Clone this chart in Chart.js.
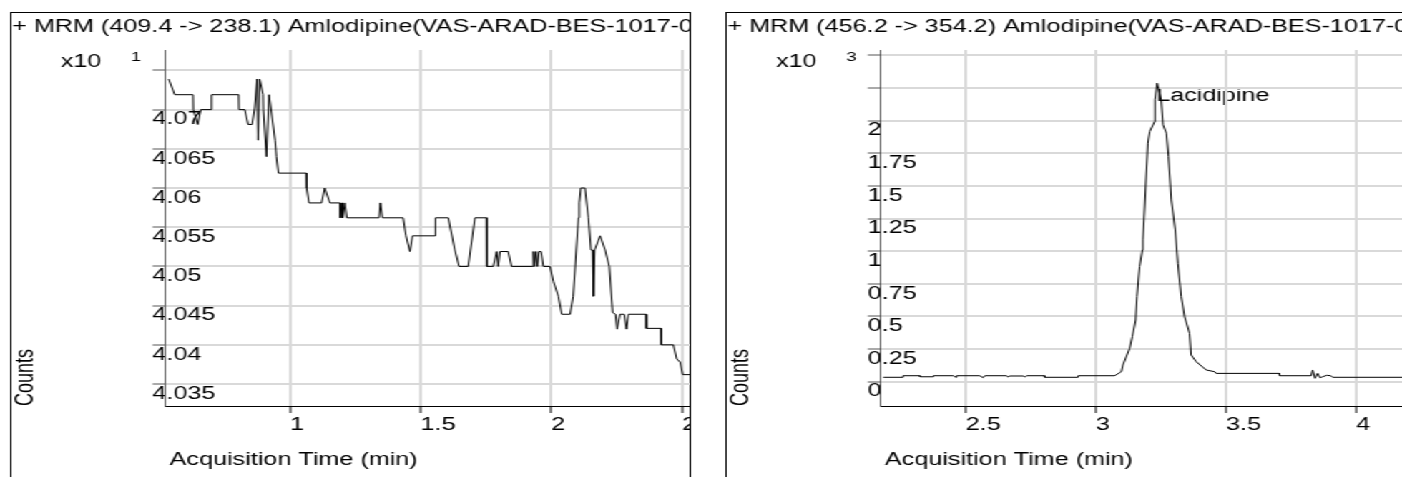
<!DOCTYPE html>
<html>
<head>
<meta charset="utf-8">
<script src="https://cdn.jsdelivr.net/npm/chart.js@4.4.0/dist/chart.umd.min.js"></script>
<style>
  html, body { margin: 0; padding: 0; background: #fff; overflow: hidden; }
  /* the whole report is stretched sideways, text and lines too */
  #stage { position: absolute; left: 0; top: 0; width: 980px; height: 477px; transform: scaleX(1.43061); transform-origin: 0 0; }
  .panel { position: absolute; top: 12px; width: 476px; height: 480px; border: 1px solid #000; box-sizing: border-box; overflow: hidden; background: #fff; }
  .panel canvas { position: absolute; left: 0; top: 0; }
</style>
</head>
<body>
<div id="stage">
  <div class="panel" style="left:7.2px"><canvas id="chart-left" width="560" height="464"></canvas></div>
  <div class="panel" style="left:507px"><canvas id="chart-right" width="560" height="464"></canvas></div>
</div>
<script>
// MRM 409.4 -> 238.1 (counts x10^1)
var leftTime = [0.536, 0.559, 0.629, 0.630, 0.647, 0.659, 0.699, 0.700, 0.804, 0.805,
  0.827, 0.840, 0.855, 0.865, 0.874, 0.878, 0.884, 0.897, 0.898, 0.910,
  0.920, 0.943, 0.948, 0.956, 1.063, 1.064, 1.073, 1.121, 1.133, 1.153,
  1.191, 1.193, 1.199, 1.202, 1.210, 1.218, 1.341, 1.346, 1.354, 1.433,
  1.444, 1.459, 1.469, 1.555, 1.557, 1.606, 1.631, 1.647, 1.682, 1.708,
  1.753, 1.754, 1.778, 1.791, 1.797, 1.804, 1.835, 1.848, 1.929, 1.932,
  1.936, 1.942, 1.947, 1.953, 1.961, 1.970, 1.995, 2.008, 2.027, 2.040,
  2.072, 2.084, 2.104, 2.107, 2.113, 2.129, 2.142, 2.152, 2.158, 2.161,
  2.166, 2.187, 2.206, 2.222, 2.235, 2.246, 2.252, 2.263, 2.279, 2.288,
  2.295, 2.363, 2.364, 2.420, 2.421, 2.467, 2.480, 2.493, 2.503, 2.620];
var leftCounts = [4.0739, 4.0719, 4.0719, 4.0700, 4.0681, 4.0700, 4.0700, 4.0719, 4.0719, 4.0700,
  4.0700, 4.0681, 4.0681, 4.0702, 4.0739, 4.0661, 4.0739, 4.0719, 4.0700, 4.0640,
  4.0719, 4.0661, 4.0640, 4.0619, 4.0619, 4.0600, 4.0581, 4.0581, 4.0600, 4.0581,
  4.0581, 4.0562, 4.0581, 4.0562, 4.0581, 4.0562, 4.0562, 4.0581, 4.0562, 4.0562,
  4.0539, 4.0519, 4.0539, 4.0539, 4.0562, 4.0562, 4.0521, 4.0500, 4.0500, 4.0562,
  4.0562, 4.0500, 4.0500, 4.0519, 4.0500, 4.0519, 4.0519, 4.0500, 4.0500, 4.0519,
  4.0500, 4.0519, 4.0500, 4.0519, 4.0519, 4.0500, 4.0500, 4.0481, 4.0462, 4.0439,
  4.0439, 4.0462, 4.0562, 4.0581, 4.0600, 4.0600, 4.0562, 4.0521, 4.0521, 4.0462,
  4.0521, 4.0539, 4.0521, 4.0500, 4.0441, 4.0439, 4.0420, 4.0439, 4.0439, 4.0420,
  4.0439, 4.0439, 4.0421, 4.0421, 4.0400, 4.0400, 4.0382, 4.0378, 4.0362, 4.0362];
var leftYTicks = [4.035, 4.04, 4.045, 4.05, 4.055, 4.06, 4.065, 4.07, 4.075];
var leftYLabels = ['4.035', '4.04', '4.045', '4.05', '4.055', '4.06', '4.065', '4.07', ''];
var leftXTicks = [1, 1.5, 2, 2.5];
var leftXLabels = ['1', '1.5', '2', '2.5'];

// MRM 456.2 -> 354.2 (counts x10^3)
var rightTime = [2.183, 2.258, 2.259, 2.324, 2.325, 2.375, 2.376, 2.452, 2.462, 2.465,
  2.554, 2.567, 2.574, 2.657, 2.663, 2.669, 2.721, 2.727, 2.734, 2.803,
  2.804, 2.931, 2.932, 3.072, 3.098, 3.104, 3.130, 3.140, 3.153, 3.158,
  3.168, 3.179, 3.181, 3.200, 3.207, 3.226, 3.227, 3.235, 3.251, 3.258,
  3.271, 3.279, 3.290, 3.305, 3.315, 3.328, 3.341, 3.360, 3.366, 3.386,
  3.424, 3.456, 3.462, 3.705, 3.706, 3.827, 3.833, 3.842, 3.852, 3.861,
  3.871, 3.887, 3.903, 3.910, 4.660];
var rightCounts = [0.034, 0.034, 0.046, 0.046, 0.038, 0.038, 0.046, 0.046, 0.034, 0.046,
  0.046, 0.031, 0.046, 0.046, 0.036, 0.044, 0.044, 0.036, 0.046, 0.046,
  0.034, 0.034, 0.046, 0.046, 0.077, 0.128, 0.256, 0.345, 0.473, 0.652,
  0.882, 1.010, 1.087, 1.828, 1.917, 1.994, 2.160, 2.288, 2.160, 1.969,
  1.905, 1.725, 1.393, 1.163, 0.908, 0.652, 0.498, 0.371, 0.205, 0.153,
  0.090, 0.077, 0.064, 0.064, 0.046, 0.046, 0.090, 0.026, 0.064, 0.031,
  0.038, 0.049, 0.046, 0.034, 0.034];
var rightYTicks = [0, 0.25, 0.5, 0.75, 1, 1.25, 1.5, 1.75, 2, 2.25, 2.5];
var rightYLabels = ['0', '0.25', '0.5', '0.75', '1', '1.25', '1.5', '1.75', '2', '', ''];
var rightXTicks = [2.5, 3, 3.5, 4];
var rightXLabels = ['2.5', '3', '3.5', '4'];

var FONT = '"Liberation Sans", Arial, sans-serif';

// all the text of one panel, placed from the chart's own scales
function panelText(o) {
  return {
    id: 'panelText',
    beforeDraw: function (chart) {
      var c = chart.ctx, a = chart.chartArea, sx = chart.scales.x, sy = chart.scales.y;
      c.save();
      c.fillStyle = '#000';
      c.textAlign = 'left';
      c.textBaseline = 'alphabetic';
      c.font = '17.6px ' + FONT;
      c.fillText(o.title, 0.5, 18.5);
      o.yTicks.forEach(function (v, i) {
        if (o.yLabels[i]) c.fillText(o.yLabels[i], a.left - 8.5, sy.getPixelForValue(v) + 14.7);
      });
      o.xTicks.forEach(function (v, i) {
        c.fillText(o.xLabels[i], sx.getPixelForValue(v), a.bottom + 24);
      });
      c.fillText('Acquisition Time (min)', a.left + 3.6, a.bottom + 59);
      c.fillText('x10', a.left - 72.6, 53.7);
      if (o.peak) {
        var k = o.counts.indexOf(Math.max.apply(null, o.counts));
        c.fillText(o.peak, sx.getPixelForValue(o.time[k]) - 0.6, sy.getPixelForValue(o.counts[k]) + 17.4);
      }
      c.font = '13px ' + FONT;
      c.fillText(o.exponent, a.left - 23.6, 47.5);
      c.font = '18px ' + FONT;
      c.translate(14.6, a.bottom);
      c.rotate(-Math.PI / 2);
      c.fillText('Counts', 0, 0);
      c.restore();
    }
  };
}

function chromatogram(id, o) {
  var ctx = document.getElementById(id).getContext('2d');
  return new Chart(ctx, {
    type: 'line',
    data: {
      datasets: [{
        data: o.time.map(function (t, i) { return { x: t, y: o.counts[i] }; }),
        borderColor: '#000',
        borderWidth: 1,
        pointRadius: 0,
        tension: 0,
        fill: false
      }]
    },
    options: {
      responsive: false,
      animation: false,
      events: [],
      layout: { padding: { top: 37, left: 0, right: 0, bottom: 0 } },
      plugins: { legend: { display: false }, tooltip: { enabled: false } },
      scales: {
        x: {
          type: 'linear', min: o.xMin, max: o.xMax,
          afterFit: function (s) { s.height = 71; },
          afterBuildTicks: function (s) { s.ticks = o.xTicks.map(function (v) { return { value: v }; }); },
          ticks: { display: false },
          grid: { color: '#d9d9d9', lineWidth: 2, tickColor: '#000', tickWidth: 1, tickLength: 7 },
          border: { color: '#000', width: 1 }
        },
        y: {
          type: 'linear', min: o.yMin, max: o.yMax,
          afterFit: function (s) { s.width = 107; },
          afterBuildTicks: function (s) { s.ticks = o.yTicks.map(function (v) { return { value: v }; }); },
          ticks: { display: false },
          grid: { color: '#d9d9d9', lineWidth: 2, tickColor: '#555', tickWidth: 1, tickLength: 8.4 },
          border: { color: '#555', width: 1 }
        }
      }
    },
    plugins: [panelText(o)]
  });
}

chromatogram('chart-left', {
  title: '+ MRM (409.4 -> 238.1) Amlodipine(VAS-ARAD-BES-1017-0',
  exponent: '1',
  time: leftTime, counts: leftCounts,
  xMin: 0.52, xMax: 3.0, yMin: 4.0322, yMax: 4.0776,
  xTicks: leftXTicks, xLabels: leftXLabels,
  yTicks: leftYTicks, yLabels: leftYLabels
});

chromatogram('chart-right', {
  title: '+ MRM (456.2 -> 354.2) Amlodipine(VAS-ARAD-BES-1017-0',
  exponent: '3',
  peak: 'Lacidipine',
  time: rightTime, counts: rightCounts,
  xMin: 2.17, xMax: 4.66, yMin: -0.186, yMax: 2.542,
  xTicks: rightXTicks, xLabels: rightXLabels,
  yTicks: rightYTicks, yLabels: rightYLabels
});
</script>
</body>
</html>
